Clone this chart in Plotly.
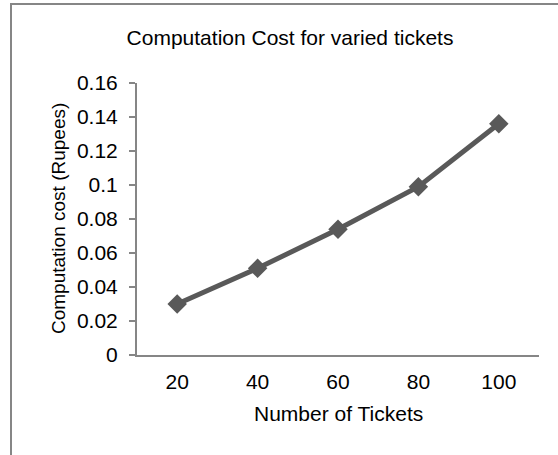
import plotly.graph_objects as go

# Data
tickets = ["20", "40", "60", "80", "100"]
cost = [0.030, 0.051, 0.074, 0.099, 0.136]
y_tick_vals = [0, 0.02, 0.04, 0.06, 0.08, 0.10, 0.12, 0.14, 0.16]
y_tick_text = ["0", "0.02", "0.04", "0.06", "0.08", "0.1", "0.12", "0.14", "0.16"]

W, H = 558, 455
L, R, T, B = 137, 19, 83, 100
pw, ph = W - L - R, H - T - B

def px_x(x):
    return (x - L) / pw

def px_y(y):
    return (H - B - y) / ph

FONT = "Liberation Sans, Arial, sans-serif"
FS = 21
AXIS_COLOR = "#868686"

fig = go.Figure()
fig.add_trace(go.Scatter(
    x=tickets, y=cost, mode="lines+markers",
    line=dict(color="#595959", width=5),
    marker=dict(symbol="diamond", size=15, color="#595959"),
    showlegend=False,
))

fig.update_layout(
    width=W, height=H,
    margin=dict(l=L, r=R, t=T, b=B),
    paper_bgcolor="white", plot_bgcolor="white",
    font=dict(family=FONT, size=FS, color="#000000"),
    title=dict(text="Computation Cost for varied tickets",
               x=290 / W, xref="container", xanchor="center",
               y=1 - 38 / H, yref="container", yanchor="middle",
               font=dict(family=FONT, size=FS, color="#000000")),
    xaxis=dict(type="category", range=[-0.5, 4.5], showgrid=False,
               showline=True, linecolor=AXIS_COLOR, linewidth=2,
               ticks="", ticklabelstandoff=7, zeroline=False,
               tickfont=dict(family=FONT, size=FS, color="#000000")),
    yaxis=dict(range=[0, 0.16], tickvals=y_tick_vals, ticktext=y_tick_text,
               showgrid=False, zeroline=False, showline=True,
               linecolor=AXIS_COLOR, linewidth=2,
               ticks="outside", ticklen=6, tickwidth=1.5, tickcolor=AXIS_COLOR,
               ticklabelstandoff=7,
               tickfont=dict(family=FONT, size=FS, color="#000000")),
    shapes=[dict(type="rect", xref="paper", yref="paper",
                 x0=px_x(11), x1=px_x(620), y0=px_y(500), y1=px_y(4),
                 line=dict(color=AXIS_COLOR, width=2), fillcolor="rgba(0,0,0,0)",
                 layer="above")],
    annotations=[
        dict(text="Computation cost (Rupees)", textangle=-90,
             xref="paper", yref="paper", x=px_x(58), y=px_y(219),
             xanchor="center", yanchor="middle", showarrow=False,
             font=dict(family=FONT, size=19, color="#000000")),
        dict(text="Number of Tickets",
             xref="paper", yref="paper", x=px_x(338), y=px_y(413),
             xanchor="center", yanchor="middle", showarrow=False,
             font=dict(family=FONT, size=FS, color="#000000")),
    ],
)

fig.write_html("out.html",
               config={"displayModeBar": False},
               post_script="document.body.style.margin='0';document.body.style.overflow='hidden';")
